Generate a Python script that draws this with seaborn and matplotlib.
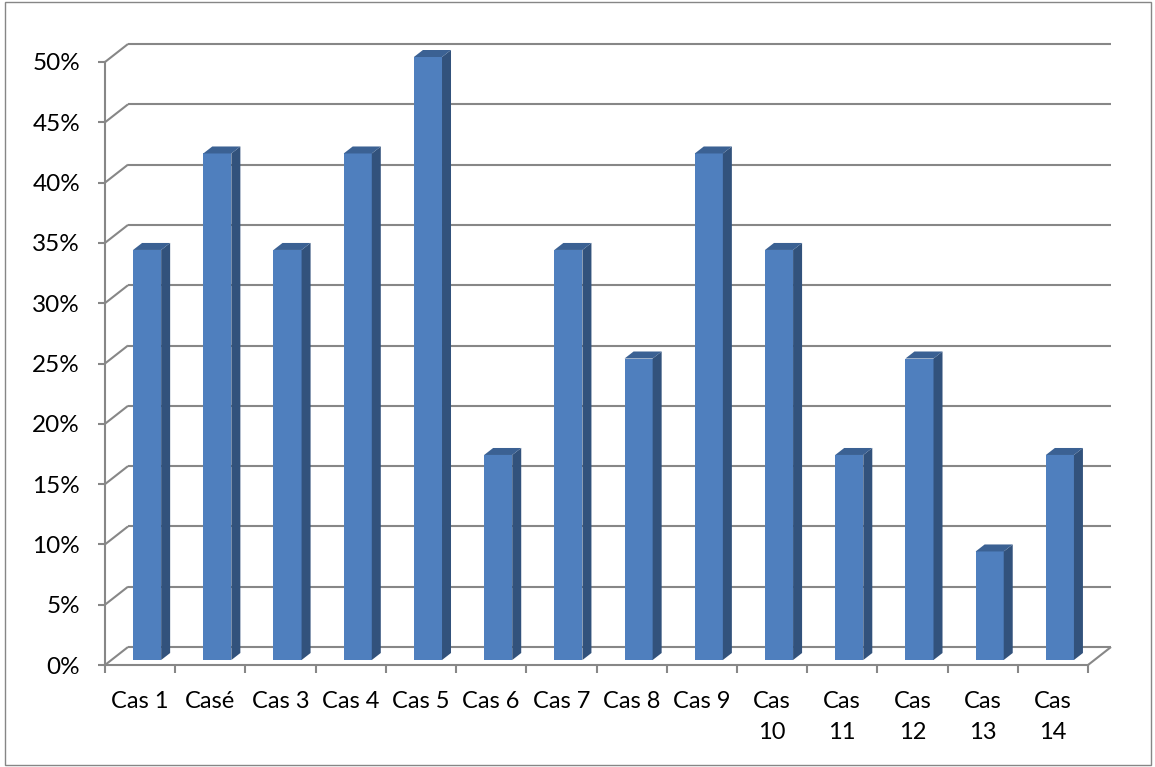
import numpy as np
import matplotlib
matplotlib.use("Agg")
import matplotlib.pyplot as plt
from matplotlib.transforms import Affine2D, IdentityTransform
from matplotlib.lines import Line2D
from matplotlib.patches import Polygon, Rectangle
import seaborn as sns

# Chart data
cases = ["Cas 1", "Casé", "Cas 3", "Cas 4", "Cas 5", "Cas 6", "Cas 7",
         "Cas 8", "Cas 9", "Cas\n10", "Cas\n11", "Cas\n12", "Cas\n13", "Cas\n14"]
values = [34, 42, 34, 42, 50, 17, 34, 25, 42, 34, 17, 25, 9, 17]
y_ticks = [0, 5, 10, 15, 20, 25, 30, 35, 40, 45, 50]
y_tick_labels = [f"{v}%" for v in y_ticks]

# Styling
FRONT = "#4F7FBE"
SIDE = "#32527C"
TOP = "#3B6193"
GRID = "#878787"
W, H = 1155, 767
WALL_DX, WALL_DY = 23, 18      # depth of the 3-D box, pixels
BAR_DX, BAR_DY = 7, 5          # bar front plane offset inside the box
BAR_DEPTH_X, BAR_DEPTH_Y = 9, 7  # bar thickness, pixels

sns.set_theme(style="white")
plt.rcParams["font.family"] = ["Lato", "DejaVu Sans"]

fig = plt.figure(figsize=(W / 100, H / 100), dpi=100)
ax = fig.add_axes([105 / W, 1 - 665 / H, (1088 - 105) / W, (665 - 62) / H])

sns.barplot(x=list(range(len(cases))), y=values, color=FRONT, saturation=1,
            width=0.4, ax=ax, zorder=3, native_scale=True)
ax.set_xlim(-0.5, len(cases) - 0.5)
ax.set_ylim(0, 50)

fig.canvas.draw()
to_px = ax.transData.transform
ident = IdentityTransform()


def seg(p0, p1):
    ax.add_line(Line2D([p0[0], p1[0]], [p0[1], p1[1]], color=GRID, lw=1.5,
                       transform=ident, clip_on=False, zorder=1,
                       solid_capstyle="butt"))


x0, x1 = -0.5, len(cases) - 0.5
wall = np.array([WALL_DX, WALL_DY])
for v in y_ticks:
    fl = to_px((x0, v))
    bl = fl + wall
    br = to_px((x1, v)) + wall
    seg(bl, br)          # back wall gridline
    seg(fl, bl)          # side wall gridline
# right edge of the floor
fr = to_px((x1, 0))
seg(fr, fr + wall)

# bars: move the front faces into the box and add side / top faces
shift = Affine2D().translate(BAR_DX, BAR_DY)
depth = np.array([BAR_DEPTH_X, BAR_DEPTH_Y])
for p in list(ax.patches):
    p.set_linewidth(0)
    p.set_clip_on(False)
    p.set_transform(ax.transData + shift)
    bx, by, bw, bh = p.get_x(), p.get_y(), p.get_width(), p.get_height()
    rb = to_px((bx + bw, by)) + [BAR_DX, BAR_DY]
    rt = to_px((bx + bw, by + bh)) + [BAR_DX, BAR_DY]
    lt = to_px((bx, by + bh)) + [BAR_DX, BAR_DY]
    side = Polygon([rb, rt, rt + depth, rb + depth], closed=True,
                   facecolor=SIDE, edgecolor="none", transform=ident,
                   clip_on=False, zorder=3)
    top = Polygon([lt, rt, rt + depth, lt + depth], closed=True,
                  facecolor=TOP, edgecolor="none", transform=ident,
                  clip_on=False, zorder=3)
    ax.add_patch(side)
    ax.add_patch(top)

# front axes
for name, sp in ax.spines.items():
    if name in ("left", "bottom"):
        sp.set_color(GRID)
        sp.set_linewidth(1.5)
        sp.set_zorder(4)
    else:
        sp.set_visible(False)

ax.set_yticks(y_ticks, y_tick_labels)
ax.set_xticks(range(len(cases)), cases)
ax.set_xticks(np.arange(-0.5, len(cases), 1), minor=True)
ax.tick_params(axis="y", which="major", direction="out", length=5, width=1.5,
               color=GRID, pad=13, labelsize=17.5, labelcolor="black", left=True)
ax.tick_params(axis="x", which="major", length=0, pad=19, labelsize=17,
               labelcolor="black")
ax.tick_params(axis="x", which="minor", direction="out", length=6, width=1.5,
               color=GRID, bottom=True)
for lbl in ax.get_xticklabels():
    lbl.set_linespacing(1.55)
ax.set_xlabel("")
ax.set_ylabel("")
ax.grid(False)

# chart area border
fig.add_artist(Rectangle((5 / W, 2 / H), (1151 - 5) / W, (765 - 2) / H,
                         transform=fig.transFigure, fill=False,
                         edgecolor="#868686", lw=1))

fig.savefig("out.png", dpi=100)
